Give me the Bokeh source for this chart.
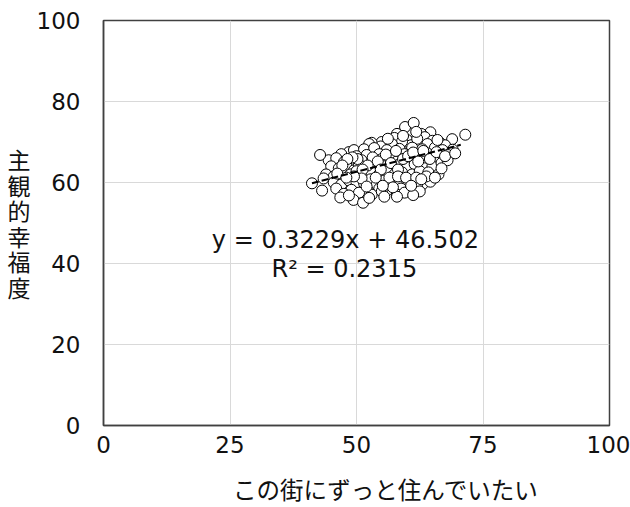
from bokeh.plotting import figure
from bokeh.models import Range1d, FixedTicker, Label, ColumnDataSource
from bokeh.embed import file_html
from bokeh.resources import INLINE

FONT = "DejaVu Sans"
JFONT = "Noto Sans CJK JP"

x_vals = [
    59.6, 61.3, 64.6, 62.8, 58.0,
    71.5, 68.9, 57.5, 60.0, 63.5, 65.0, 66.5, 55.0, 53.0, 52.5, 60.8, 62.0, 59.0, 64.0, 67.5, 57.0, 54.8,
    48.5, 47.0, 49.5, 51.5, 53.5, 56.0, 58.5, 61.0, 63.0, 65.5, 67.0, 69.0, 44.5, 46.0, 50.0, 52.0, 54.5,
    57.0, 59.5, 62.0, 64.0, 66.2, 68.0, 47.5, 51.0, 55.0, 58.0, 60.5, 63.0, 65.5, 42.8,
    45.0, 46.5, 48.0, 49.5, 50.5, 52.5, 53.5, 55.5, 57.0, 58.5, 60.0, 61.5, 63.5, 65.0, 66.8, 68.0,
    44.0, 45.5, 47.0, 48.8, 50.0, 51.5, 53.0, 54.5, 56.0, 57.5, 59.0, 61.0, 62.5, 64.2, 66.2, 43.5,
    41.2, 43.2, 45.5, 47.0, 48.5, 50.0, 51.5, 52.8, 54.0, 55.5, 57.0, 58.5, 60.0, 61.5, 63.0, 64.6,
    46.0, 49.0, 52.0, 54.5, 56.0, 58.8, 60.5, 62.0, 47.5, 50.5, 53.0, 55.0, 58.0, 59.5, 62.5,
    46.8, 49.4, 51.3, 58.0, 61.2, 52.5, 48.5, 55.5,
    53.2, 54.2, 55.8, 56.8, 57.8, 58.2, 59.2, 60.2, 61.2, 62.2, 63.2, 64.5, 65.8, 66.8, 52.2, 51.2,
    50.2, 49.2, 48.2, 47.2, 46.2, 54.8, 56.5, 58.2, 59.8, 61.8, 63.8, 65.5, 53.8, 51.0, 49.5, 57.2,
    55.2, 60.8, 62.8, 52.0, 48.0, 67.5, 69.5, 66.0, 61.8, 59.2, 56.2,
]
y_vals = [
    73.7, 74.7, 72.4, 72.0, 72.0,
    71.8, 70.7, 71.0, 70.5, 71.2, 70.3, 69.8, 70.0, 69.8, 69.5, 69.2, 70.8, 70.1, 69.5, 69.2, 69.5, 68.9,
    67.5, 67.0, 68.0, 68.2, 68.5, 68.0, 68.3, 68.6, 68.2, 68.6, 68.0, 68.1, 65.5, 66.0, 66.5, 66.8, 67.0,
    66.5, 67.0, 66.8, 67.2, 66.5, 66.8, 65.0, 65.5, 65.8, 65.2, 65.8, 65.5, 65.2, 66.8,
    64.0, 63.5, 64.3, 63.0, 64.5, 63.8, 64.8, 64.0, 63.5, 64.5, 63.8, 64.5, 63.5, 64.0, 64.8, 65.5,
    62.0, 61.5, 62.5, 62.0, 62.8, 61.8, 62.5, 62.0, 62.8, 62.0, 62.5, 62.0, 62.8, 62.5, 62.0, 61.0,
    59.8, 58.0, 60.0, 59.5, 60.5, 60.0, 59.8, 60.8, 59.5, 60.5, 60.0, 59.8, 60.5, 60.0, 59.5, 60.2,
    58.5, 58.2, 58.0, 58.5, 58.0, 58.5, 58.0, 58.8, 57.2, 57.5, 57.0, 57.8, 57.0, 57.5, 57.8,
    56.3, 55.7, 55.0, 56.5, 56.9, 56.2, 56.8, 56.5,
    66.2, 65.2, 66.9, 64.8, 67.8, 63.2, 65.8, 66.5, 67.4, 65.2, 67.8, 65.8, 67.5, 63.5, 64.2, 63.2,
    65.8, 66.2, 65.8, 64.2, 62.2, 63.2, 61.2, 61.5, 61.2, 61.2, 61.5, 61.2, 61.2, 61.0, 61.5, 58.8,
    59.2, 59.2, 60.8, 59.0, 61.2, 66.5, 67.2, 70.5, 72.5, 71.5, 70.8,
]

x_ticks = [0, 25, 50, 75, 100]
y_ticks = [0, 20, 40, 60, 80, 100]

slope = 0.3229
intercept = 46.502
trend_x = [min(x_vals), 70.6]
trend_y = [slope * v + intercept for v in trend_x]

eq_text = "y = 0.3229x + 46.502"
r2_text = "R² = 0.2315"
x_title = "この街にずっと住んでいたい"
y_title = "主\n観\n的\n幸\n福\n度"

p = figure(width=630, height=507, output_backend="svg", toolbar_location=None,
           x_range=Range1d(0, 100), y_range=Range1d(0, 100),
           min_border_left=103, min_border_right=21, min_border_top=20, min_border_bottom=81)
p.background_fill_color = "white"
p.border_fill_color = "white"
p.outline_line_color = "#404040"
p.outline_line_width = 1.5

for ax in (p.xaxis[0], p.yaxis[0]):
    ax.major_tick_line_color = None
    ax.minor_tick_line_color = None
    ax.axis_line_color = "#404040"
    ax.axis_line_width = 1.5
    ax.major_label_text_font = FONT
    ax.major_label_text_font_size = "23px"
    ax.major_label_text_color = "#111111"
p.xaxis.ticker = FixedTicker(ticks=x_ticks)
p.yaxis.ticker = FixedTicker(ticks=y_ticks)
p.xaxis.major_label_standoff = 4
p.yaxis.major_label_standoff = 17

p.yaxis.axis_label = y_title
p.yaxis.axis_label_orientation = "horizontal"
p.yaxis.axis_label_text_font = JFONT
p.yaxis.axis_label_text_font_size = "23px"
p.yaxis.axis_label_text_font_style = "normal"
p.yaxis.axis_label_text_color = "#111111"
p.yaxis.axis_label_text_line_height = 0.75
p.yaxis.axis_label_standoff = 3

# x title: leading ideographic/en spaces shift the centred label right like the reference
p.xaxis.axis_label = "\u3000\u3000\u2002" + x_title
p.xaxis.axis_label_text_font = "DejaVu Sans, Noto Sans CJK JP"
p.xaxis.axis_label_text_font_size = "23.5px"
p.xaxis.axis_label_text_font_style = "normal"
p.xaxis.axis_label_text_color = "#111111"
p.xaxis.axis_label_standoff = 21

p.xgrid.ticker = FixedTicker(ticks=x_ticks)
p.ygrid.ticker = FixedTicker(ticks=y_ticks)
p.xgrid.grid_line_color = "#d9d9d9"
p.ygrid.grid_line_color = "#d9d9d9"

src = ColumnDataSource(data=dict(x=x_vals, y=y_vals))
p.scatter("x", "y", source=src, size=11, fill_color="white", line_color="black", line_width=1)
p.line(trend_x, trend_y, line_color="black", line_width=2, line_dash="7 3")

p.add_layout(Label(x=47.8, y=45.9, text=eq_text, text_font=FONT, text_font_size="24px",
                   text_align="center", text_baseline="middle", text_color="#111111"))
p.add_layout(Label(x=47.6, y=38.7, text=r2_text, text_font=FONT, text_font_size="24px",
                   text_align="center", text_baseline="middle", text_color="#111111"))

open("out.html", "w").write(file_html(p, INLINE))
